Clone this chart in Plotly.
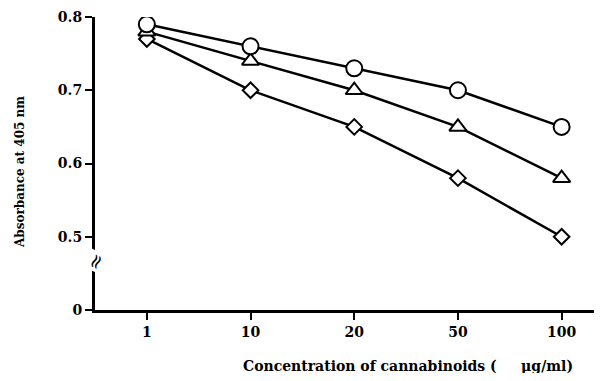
import plotly.graph_objects as go

categories = ["1", "10", "20", "50", "100"]
circle_vals = [0.79, 0.76, 0.73, 0.70, 0.65]
triangle_vals = [0.78, 0.74, 0.70, 0.65, 0.58]
diamond_vals = [0.77, 0.70, 0.65, 0.58, 0.50]
y_tick_vals = [0.40, 0.5, 0.6, 0.7, 0.8]
y_tick_text = ["0", "0.5", "0.6", "0.7", "0.8"]

xs = list(range(len(categories)))
font = "DejaVu Serif"

fig = go.Figure()
series = [
    (diamond_vals, "diamond", 12),
    (triangle_vals, "triangle-up", 15),
    (circle_vals, "circle", 16),
]
for vals, sym, sz in series:
    fig.add_trace(go.Scatter(
        x=xs, y=vals, mode="lines",
        line=dict(color="black", width=2.5),
        showlegend=False, hoverinfo="skip",
    ))
for vals, sym, sz in series:
    fig.add_trace(go.Scatter(
        x=xs, y=vals, mode="markers",
        marker=dict(symbol=sym, size=sz, color="white",
                    line=dict(color="black", width=2)),
        showlegend=False,
    ))

tf = dict(family=font, size=14, color="black", weight="bold")
fig.update_layout(
    width=594, height=365,
    margin=dict(l=87, r=2, t=9, b=63),
    plot_bgcolor="white", paper_bgcolor="white",
    font=dict(family=font, color="black"),
    xaxis=dict(
        range=[-0.5, 4.37], tickmode="array", tickvals=xs, ticktext=categories,
        showline=True, linecolor="black", linewidth=3, ticks="outside",
        ticklen=7, tickwidth=1.5, tickcolor="black", showgrid=False, zeroline=False,
        tickfont=tf,
    ),
    yaxis=dict(
        range=[0.40, 0.8], tickmode="array", tickvals=y_tick_vals, ticktext=y_tick_text,
        showline=True, linecolor="black", linewidth=3, ticks="outside",
        ticklen=7, tickwidth=1.5, tickcolor="black", showgrid=False, zeroline=False,
        tickfont=tf,
    ),
    annotations=[
        dict(text="<b>Concentration of cannabinoids (     µg/ml)</b>", xref="paper", yref="paper",
             x=0.62, y=-0.191, xanchor="center", yanchor="middle", showarrow=False,
             font=dict(family=font, size=14, color="black")),
        dict(text="<b>Absorbance at 405 nm</b>", xref="paper", yref="paper",
             x=-0.1485, y=0.471, textangle=-90, xanchor="center", yanchor="middle",
             showarrow=False, font=dict(family=font, size=12, color="black")),
        dict(text="≈", xref="paper", yref="y", x=0, y=0.466, textangle=-65,
             xanchor="center", yanchor="middle", showarrow=False,
             font=dict(family=font, size=20, color="black"), bgcolor="white"),
    ],
)

fig.write_html("out.html")
